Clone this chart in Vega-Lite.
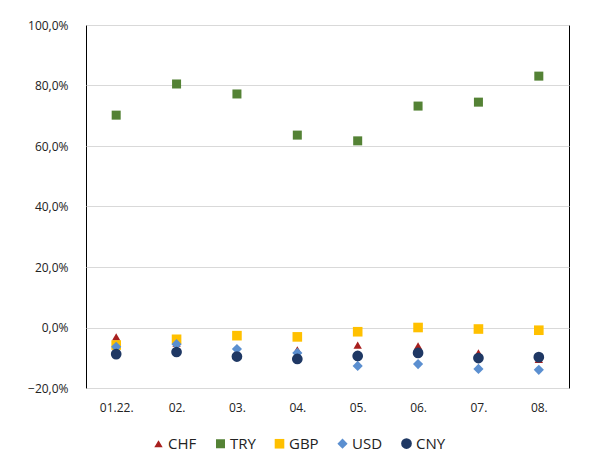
{
  "$schema": "https://vega.github.io/schema/vega-lite/v6.json",
  "width": 483,
  "height": 363,
  "autosize": "none",
  "padding": {"left": 86, "top": 25, "right": 23, "bottom": 65},
  "config": {
    "locale": {"number": {"decimal": ",", "thousands": ".", "grouping": [3], "currency": ["", " €"]}},
    "view": {"stroke": "#000000", "strokeWidth": 1},
    "font": "Open Sans"
  },
  "data": {
    "values": [
      {"m": "01.22.", "s": "CHF", "v": -3.1}, {"m": "02.", "s": "CHF", "v": -5.2}, {"m": "03.", "s": "CHF", "v": -8.0}, {"m": "04.", "s": "CHF", "v": -7.4},
      {"m": "05.", "s": "CHF", "v": -5.8}, {"m": "06.", "s": "CHF", "v": -6.1}, {"m": "07.", "s": "CHF", "v": -8.4}, {"m": "08.", "s": "CHF", "v": -10.5},
      {"m": "01.22.", "s": "TRY", "v": 70.2}, {"m": "02.", "s": "TRY", "v": 80.5}, {"m": "03.", "s": "TRY", "v": 77.2}, {"m": "04.", "s": "TRY", "v": 63.6},
      {"m": "05.", "s": "TRY", "v": 61.7}, {"m": "06.", "s": "TRY", "v": 73.2}, {"m": "07.", "s": "TRY", "v": 74.5}, {"m": "08.", "s": "TRY", "v": 83.1},
      {"m": "01.22.", "s": "GBP", "v": -5.8}, {"m": "02.", "s": "GBP", "v": -3.9}, {"m": "03.", "s": "GBP", "v": -2.7}, {"m": "04.", "s": "GBP", "v": -3.1},
      {"m": "05.", "s": "GBP", "v": -1.4}, {"m": "06.", "s": "GBP", "v": 0.0}, {"m": "07.", "s": "GBP", "v": -0.5}, {"m": "08.", "s": "GBP", "v": -0.9},
      {"m": "01.22.", "s": "USD", "v": -6.4}, {"m": "02.", "s": "USD", "v": -5.5}, {"m": "03.", "s": "USD", "v": -7.1}, {"m": "04.", "s": "USD", "v": -8.4},
      {"m": "05.", "s": "USD", "v": -12.7}, {"m": "06.", "s": "USD", "v": -12.1}, {"m": "07.", "s": "USD", "v": -13.7}, {"m": "08.", "s": "USD", "v": -14.0},
      {"m": "01.22.", "s": "CNY", "v": -8.8}, {"m": "02.", "s": "CNY", "v": -8.1}, {"m": "03.", "s": "CNY", "v": -9.6}, {"m": "04.", "s": "CNY", "v": -10.4},
      {"m": "05.", "s": "CNY", "v": -9.4}, {"m": "06.", "s": "CNY", "v": -8.4}, {"m": "07.", "s": "CNY", "v": -10.1}, {"m": "08.", "s": "CNY", "v": -9.8}
    ]
  },
  "transform": [{"calculate": "datum.v / 100", "as": "p"}],
  "mark": {"type": "point", "filled": true, "opacity": 1},
  "encoding": {
    "x": {
      "field": "m", "type": "nominal", "sort": null,
      "scale": {"type": "point", "padding": 0.5},
      "axis": {"title": null, "labelAngle": 0, "ticks": false, "domain": false, "labelPadding": 14, "labelFontSize": 12, "labelColor": "#222222", "grid": false}
    },
    "y": {
      "field": "p", "type": "quantitative",
      "scale": {"domain": [-0.2, 1.0], "nice": false, "zero": false},
      "axis": {"title": null, "format": ".1%", "values": [-0.2, 0, 0.2, 0.4, 0.6, 0.8, 1.0], "ticks": false, "domain": false, "labelPadding": 18, "labelFontSize": 12, "labelColor": "#222222", "gridColor": "#d9d9d9", "gridWidth": 1}
    },
    "color": {
      "field": "s", "type": "nominal",
      "scale": {"domain": ["CHF", "TRY", "GBP", "USD", "CNY"], "range": ["#a8201f", "#548235", "#ffc000", "#5b8fd0", "#1f3864"]},
      "legend": {"title": null, "orient": "none", "legendX": 65, "legendY": 411, "direction": "horizontal", "columns": 5, "labelFontSize": 15, "labelColor": "#222222", "columnPadding": 15, "labelOffset": 2, "labelLimit": 300, "symbolOpacity": 1}
    },
    "shape": {
      "field": "s", "type": "nominal",
      "scale": {"domain": ["CHF", "TRY", "GBP", "USD", "CNY"], "range": ["triangle-up", "square", "square", "diamond", "circle"]}
    },
    "size": {
      "field": "s", "type": "nominal",
      "scale": {"domain": ["CHF", "TRY", "GBP", "USD", "CNY"], "range": [70, 115, 210, 55, 90]}
    }
  }
}
